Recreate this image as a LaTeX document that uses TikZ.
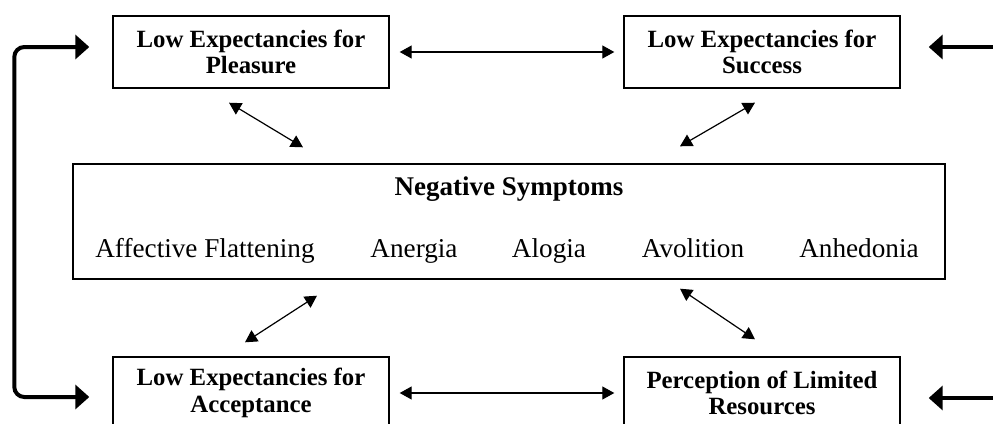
\documentclass[tikz,border=0pt]{standalone}
\usepackage{fontspec}
\setmainfont{Liberation Serif}
\usetikzlibrary{arrows.meta, positioning, calc}
\tikzset{
  every picture/.style={x=0.5pt, y=-0.5pt},
  box/.style={draw, line width=0.7pt, minimum width=138pt, minimum height=36pt, align=center, inner sep=0pt, font=\fontsize{12.4}{13.2}\selectfont\bfseries},
  link/.style={{Triangle[length=6pt,width=6.5pt]}-{Triangle[length=6pt,width=6.5pt]}, line width=0.6pt},
  feedback/.style={-{Triangle[length=7pt,width=12pt]}, line width=2pt},
  item/.style={anchor=base, inner sep=0pt, font=\fontsize{13.6}{16}\selectfont},
}
\begin{document}
\begin{tikzpicture}
  \useasboundingbox (0,0) rectangle (993,424);
  \clip (0,0) rectangle (993,424);
  % the four expectancy boxes
  \node[box] (pleasure) at (251,52) {Low Expectancies for\\Pleasure};
  \node[box] (success) at (762,52) {Low Expectancies for\\Success};
  \node[box] (acceptance) at (251,393) {Low Expectancies for\\Acceptance};
  \node[box] (resources) at (762,393) {Perception of Limited\\Resources};
  % the central box
  \node[draw, line width=0.7pt, minimum width=436pt, minimum height=57.5pt] (symptoms) at (509,221.5) {};
  \node[item, font=\fontsize{13.5}{16}\selectfont\bfseries] (header) at (509,195) {Negative Symptoms};
  \foreach \x/\t [count=\i] in {205/Affective Flattening, 414/Anergia, 549/Alogia, 693/Avolition, 859/Anhedonia}
    \node[item] (sym\i) at (\x,257) {\t};
  % links between boxes
  \draw[link, shorten <=5pt, shorten >=4.5pt] (pleasure) -- (success);
  \draw[link, shorten <=5pt, shorten >=4.5pt] (acceptance) -- (resources);
  \draw[link] ($(pleasure.south)+(-22,14)$) -- ($(symptoms.north)+(-206,-16)$);
  \draw[link] ($(success.south)+(-7,14)$) -- ($(symptoms.north)+(171,-17)$);
  \draw[link] ($(symptoms.south)+(-192,16)$) -- ($(acceptance.north)+(-6,-14)$);
  \draw[link] ($(symptoms.south)+(171,9)$) -- ($(resources.north)+(-7,-17)$);
  % feedback arrows on both sides
  \draw[feedback, {Triangle[length=7pt,width=12pt]}-{Triangle[length=7pt,width=12pt]}, rounded corners=5pt]
    ($(pleasure.west)+(-23,-5)$) -- ++(-75,0) |- ($(acceptance.west)+(-23,4)$);
  \coordinate (rtop) at (1010,47);
  \coordinate (rbot) at (1010,398);
  \draw[feedback] (rtop) -- ($(success.east)+(28,-5)$);
  \draw[feedback] (rbot) -- ($(resources.east)+(28,5)$);
\end{tikzpicture}
\end{document}
